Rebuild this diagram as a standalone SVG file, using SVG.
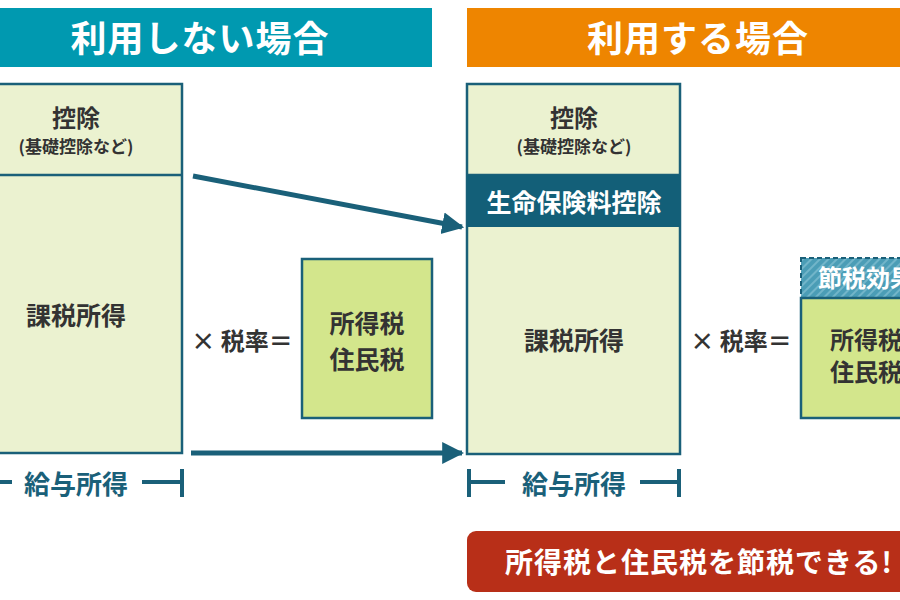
<svg xmlns="http://www.w3.org/2000/svg" width="900" height="600" viewBox="0 0 900 600">
<defs>
<style>
.jp{font-family:"Noto Sans CJK JP","Noto Sans CJK SC",sans-serif;}
.hdr{font-size:36px;font-weight:bold;fill:#fff;text-anchor:middle;letter-spacing:1px;}
.box{fill:#ebf2d0;stroke:#1a6079;stroke-width:2.5;}
.tax{fill:#d3e68c;stroke:#1a6079;stroke-width:2.5;}
.lbl{fill:#333;text-anchor:middle;font-weight:bold;}
.dk{fill:#1a6079;}
.conn{stroke:#1a6079;stroke-width:5;fill:none;}
.brk{stroke:#1a6079;stroke-width:4;fill:none;}
</style>
<marker id="ah" viewBox="0 0 10 10" refX="9" refY="5" markerUnits="userSpaceOnUse" markerWidth="22" markerHeight="26" orient="auto">
<path d="M0,0 L10,5 L0,10 Z" fill="#1a6079"/>
</marker>
<pattern id="hatch" patternUnits="userSpaceOnUse" width="6" height="6" patternTransform="rotate(45)">
<rect width="6" height="6" fill="#4b9db6"/>
<rect width="2" height="6" fill="#72b5c9"/>
</pattern>
</defs>
<rect width="900" height="600" fill="#fff"/>

<g id="header-left">
<rect x="0" y="8" width="432" height="59" fill="#0099b0"/>
<text class="jp hdr" x="200" y="52">利用しない場合</text>
</g>
<g id="header-right">
<rect x="467" y="8" width="433" height="59" fill="#ee8500"/>
<text class="jp hdr" x="698" y="52">利用する場合</text>
</g>

<g id="left-income">
<rect class="box" x="-30" y="84" width="212" height="369"/>
<line x1="-30" y1="175" x2="182" y2="175" stroke="#1a6079" stroke-width="2.5"/>
<text class="jp lbl" x="76" y="127" font-size="24">控除</text>
<text class="jp lbl" x="76" y="153" font-size="17" font-weight="500">(基礎控除など)</text>
<text class="jp lbl" x="76" y="325" font-size="25">課税所得</text>
</g>

<g id="left-rate">
<text class="jp lbl" x="242" y="350" font-size="24">× 税率＝</text>
</g>

<g id="left-tax">
<rect class="tax" x="302" y="259" width="130" height="159"/>
<text class="jp lbl" x="367" y="333" font-size="25" font-weight="500">所得税</text>
<text class="jp lbl" x="367" y="369" font-size="25" font-weight="500">住民税</text>
</g>

<g id="right-income">
<rect class="box" x="467" y="84" width="213" height="370"/>
<line x1="467" y1="175" x2="680" y2="175" stroke="#1a6079" stroke-width="2.5"/>
<text class="jp lbl" x="574" y="127" font-size="24">控除</text>
<text class="jp lbl" x="574" y="153" font-size="17" font-weight="500">(基礎控除など)</text>
<rect x="467" y="175" width="213" height="52" fill="#135f78"/>
<text class="jp" x="574" y="212" font-size="25" font-weight="bold" fill="#fff" text-anchor="middle">生命保険料控除</text>
<text class="jp lbl" x="574" y="350" font-size="25">課税所得</text>
</g>

<g id="right-rate">
<text class="jp lbl" x="741" y="350" font-size="24">× 税率＝</text>
</g>

<g id="right-effect">
<rect x="801" y="258" width="130" height="40" fill="url(#hatch)" stroke="#1a6079" stroke-width="2" stroke-dasharray="5 3"/>
<text class="jp" x="866" y="287" font-size="24" font-weight="bold" fill="#fff" text-anchor="middle">節税効果</text>
</g>

<g id="right-tax">
<rect class="tax" x="801" y="298" width="130" height="120"/>
<text class="jp lbl" x="866" y="349" font-size="24" font-weight="500">所得税</text>
<text class="jp lbl" x="866" y="381" font-size="24" font-weight="500">住民税</text>
</g>

<g id="connectors">
<line class="conn" x1="193" y1="176" x2="462" y2="227" marker-end="url(#ah)"/>
<line class="conn" x1="191" y1="453" x2="462" y2="453" marker-end="url(#ah)"/>
</g>

<g id="left-salary">
<line class="brk" x1="0" y1="482" x2="12" y2="482"/>
<line class="brk" x1="142" y1="482" x2="182" y2="482"/>
<line class="brk" x1="182" y1="469" x2="182" y2="497"/>
<text class="jp dk" x="76" y="494" font-size="26" font-weight="bold" text-anchor="middle">給与所得</text>
</g>

<g id="right-salary">
<line class="brk" x1="469" y1="469" x2="469" y2="497"/>
<line class="brk" x1="469" y1="482" x2="505" y2="482"/>
<line class="brk" x1="640" y1="482" x2="679" y2="482"/>
<line class="brk" x1="679" y1="469" x2="679" y2="497"/>
<text class="jp dk" x="574" y="494" font-size="26" font-weight="bold" text-anchor="middle">給与所得</text>
</g>

<g id="result">
<rect x="467" y="531" width="460" height="61" rx="9" fill="#b82f18"/>
<text class="jp" x="505" y="573" font-size="28" font-weight="bold" fill="#fff" letter-spacing="1">所得税と住民税を節税できる!</text>
</g>
</svg>
